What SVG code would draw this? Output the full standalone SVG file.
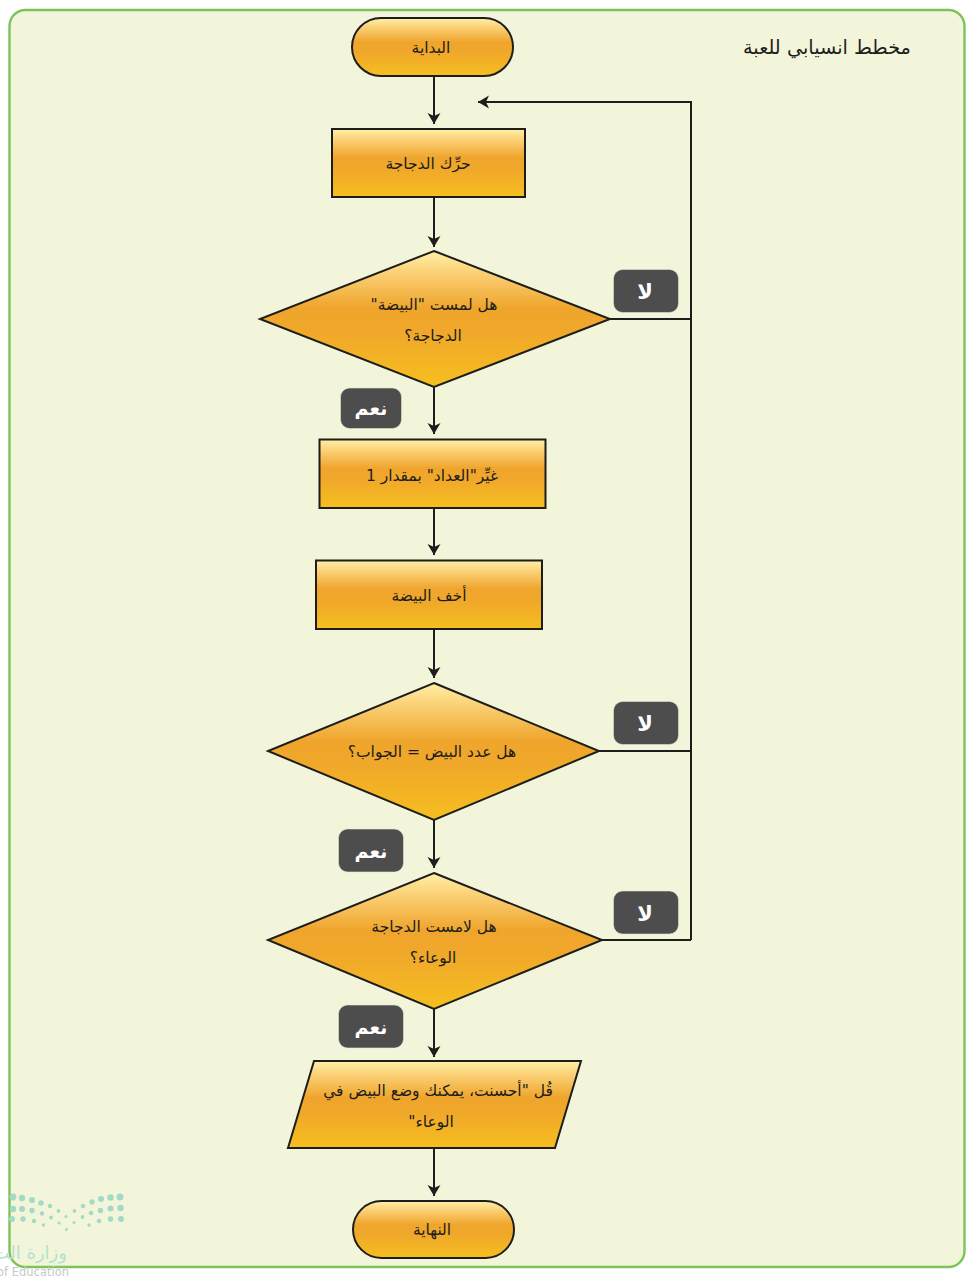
<svg xmlns="http://www.w3.org/2000/svg" width="977" height="1277" viewBox="0 0 977 1277">
<style>
text{font-family:"DejaVu Sans","Noto Sans",sans-serif;text-anchor:middle;direction:rtl;fill:#1d1d1b;font-size:15.5px}
.s{stroke:#1d1d1b;stroke-width:2;fill:url(#g)}
.c{fill:none;stroke:#1d1d1b;stroke-width:2}
.b{fill:#4d4d4d;stroke:#e4e6d0;stroke-width:.6}
.l{fill:#fff;font-size:21px;font-weight:bold}
.y{font-size:19px}
.d{fill:#a3dac6}
</style>
<defs>
<linearGradient id="g" x1="0" y1="0" x2="0" y2="1"><stop offset="0" stop-color="#fff0a8"/><stop offset=".14" stop-color="#fcd47c"/><stop offset=".42" stop-color="#efa52c"/><stop offset=".6" stop-color="#f0a82a"/><stop offset="1" stop-color="#f6bf1f"/></linearGradient>
<marker id="a" markerWidth="12" markerHeight="14" refX="11" refY="6.500" orient="auto" markerUnits="userSpaceOnUse"><path d="M0 0L11 6.500L0 13L3 6.500Z" fill="#1d1d1b"/></marker>
</defs>
<rect width="977" height="1277" fill="#fff"/>
<rect id="panel" x="9.500" y="10" width="955" height="1257" rx="16" fill="#f2f5da" stroke="#7dc35a" stroke-width="2.400"/>
<g id="watermark">
<g class="d">
<circle cx="13" cy="1197" r="3.400"/><circle cx="22" cy="1198" r="3.200"/><circle cx="32" cy="1200" r="3"/><circle cx="41" cy="1203" r="2.700"/><circle cx="50" cy="1206" r="2.200"/><circle cx="58.500" cy="1211" r="1.900"/>
<circle cx="83" cy="1206" r="2.200"/><circle cx="92" cy="1202" r="2.700"/><circle cx="101" cy="1199" r="3"/><circle cx="110.500" cy="1197.500" r="3.200"/><circle cx="120" cy="1197" r="3.400"/>
<circle cx="13" cy="1209" r="3.200"/><circle cx="22" cy="1209" r="3"/><circle cx="32" cy="1210.500" r="2.700"/><circle cx="42" cy="1213.500" r="2.200"/><circle cx="51" cy="1217.500" r="1.900"/><circle cx="66" cy="1216.500" r="1.600"/><circle cx="74.500" cy="1211" r="1.900"/><circle cx="82.500" cy="1217" r="1.900"/><circle cx="91" cy="1213" r="2.200"/><circle cx="100.500" cy="1210.500" r="2.700"/><circle cx="110.500" cy="1208.500" r="3"/><circle cx="120.500" cy="1208" r="3.200"/>
<circle cx="12" cy="1219" r="3"/><circle cx="23" cy="1219" r="2.700"/><circle cx="34" cy="1221" r="2.200"/><circle cx="43.500" cy="1225" r="1.700"/><circle cx="59" cy="1223" r="1.600"/><circle cx="74" cy="1222.500" r="1.600"/><circle cx="89" cy="1225" r="1.700"/><circle cx="99" cy="1221" r="2.200"/><circle cx="110.500" cy="1219" r="2.700"/><circle cx="121" cy="1219" r="3"/><circle cx="66.500" cy="1229.500" r="1.500"/>
</g>
<text x="67" y="1259" style="font-size:18px;fill:#b5e2d0;text-anchor:start">وزارة الت</text>
<text x="33" y="1276" style="font-size:11.500px;fill:#c8c8c8;direction:ltr">of Education</text>
</g>
<text id="title" x="827" y="54" style="font-size:19.300px">مخطط انسيابي للعبة</text>
<g id="connectors">
<path class="c" marker-end="url(#a)" d="M434 76V124"/>
<path class="c" marker-end="url(#a)" d="M434 198V247"/>
<path class="c" marker-end="url(#a)" d="M434 387V434"/>
<path class="c" marker-end="url(#a)" d="M434 508V555"/>
<path class="c" marker-end="url(#a)" d="M434 629V678"/>
<path class="c" marker-end="url(#a)" d="M434 820V868"/>
<path class="c" marker-end="url(#a)" d="M434 1009V1057"/>
<path class="c" marker-end="url(#a)" d="M434 1148V1196"/>
<path class="c" marker-end="url(#a)" d="M691 940V102H478"/>
<path class="c" d="M610 319H691M599 751H691M602 940H691"/>
</g>
<g id="start"><rect class="s" x="352" y="18" width="161" height="58" rx="29"/><text x="431" y="53">البداية</text></g>
<g id="move"><rect class="s" x="332" y="129" width="193" height="68"/><text x="428" y="169">حرِّك الدجاجة</text></g>
<g id="q1"><path class="s" d="M434 251L610 319L434 387L260 319Z"/><text x="434" y="310">هل لمست "البيضة"</text><text x="433" y="341">الدجاجة؟</text></g>
<g id="counter"><rect class="s" x="319.500" y="439.500" width="226" height="68.500"/><text x="432" y="481">غيِّر"العداد" بمقدار 1</text></g>
<g id="hide"><rect class="s" x="316" y="560.500" width="226" height="68.500"/><text x="429" y="601">أخف البيضة</text></g>
<g id="q2"><path class="s" d="M434 683L599 751L434 820L268 751Z"/><text x="432" y="757">هل عدد البيض = الجواب؟</text></g>
<g id="q3"><path class="s" d="M434 873L602 940L434 1009L268 940Z"/><text x="434" y="932">هل لامست الدجاجة</text><text x="433" y="963">الوعاء؟</text></g>
<g id="say"><path class="s" d="M314 1061H581L555 1148H288Z"/><text x="438" y="1096">قُل "أحسنت، يمكنك وضع البيض في</text><text x="431" y="1127">الوعاء"</text></g>
<g id="end"><rect class="s" x="353" y="1201" width="161" height="57" rx="28.500"/><text x="432" y="1235">النهاية</text></g>
<g id="label-no-1"><rect class="b" x="613.500" y="269.500" width="65" height="43" rx="9"/><text class="l" x="645" y="299">لا</text></g>
<g id="label-no-2"><rect class="b" x="613.500" y="701.500" width="65" height="43" rx="9"/><text class="l" x="645" y="731">لا</text></g>
<g id="label-no-3"><rect class="b" x="613.500" y="891" width="65" height="43" rx="9"/><text class="l" x="645" y="921">لا</text></g>
<g id="label-yes-1"><rect class="b" x="340.500" y="388" width="61" height="40.500" rx="9"/><text class="l y" x="371" y="415">نعم</text></g>
<g id="label-yes-2"><rect class="b" x="338.500" y="829" width="65" height="43" rx="9"/><text class="l y" x="371" y="858">نعم</text></g>
<g id="label-yes-3"><rect class="b" x="338.500" y="1005" width="65" height="43" rx="9"/><text class="l y" x="371" y="1034">نعم</text></g>
</svg>
